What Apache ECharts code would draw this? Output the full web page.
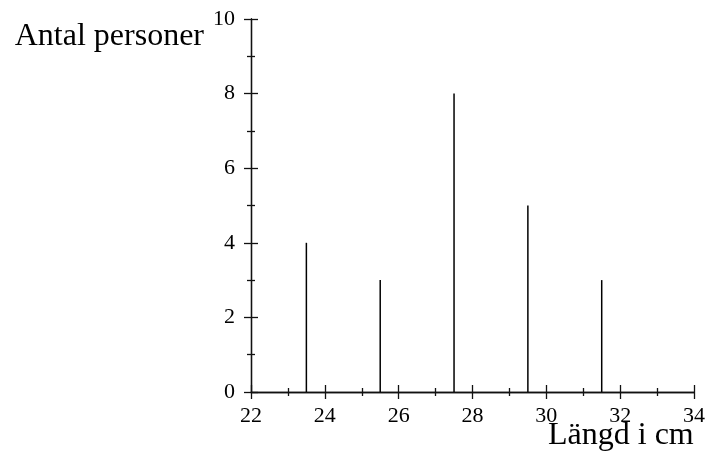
<!DOCTYPE html>
<html>
<head>
<meta charset="utf-8">
<script src="https://cdn.jsdelivr.net/npm/echarts@6/dist/echarts.min.js"></script>
<style>html,body{margin:0;padding:0;background:#fff}#c{width:710px;height:455px}</style>
</head>
<body>
<div id="c"></div>
<script>
var lengths = [23.5, 25.5, 27.5, 29.5, 31.5];
var counts = [4, 3, 8, 5, 3];
var xName = 'Längd i cm';
var yName = 'Antal personer';

var FONT = '"Liberation Serif", "Times New Roman", serif';
var INK = '#111';
var chart = echarts.init(document.getElementById('c'));

function xAx(inside, labels) {
  return {
    type: 'value', min: 22, max: 34, interval: 2, position: 'bottom',
    axisLine: { show: true, onZero: false, lineStyle: { color: INK, width: 1.3 } },
    axisTick: { show: true, inside: inside, length: 7, lineStyle: { color: INK, width: 1.3 } },
    minorTick: { show: true, splitNumber: 2, length: 4, lineStyle: { color: INK, width: 1.3 } },
    axisLabel: { show: labels, margin: 13, fontFamily: FONT, fontSize: 22, color: '#000' },
    splitLine: { show: false }, minorSplitLine: { show: false }
  };
}
function yAx(inside, labels) {
  return {
    type: 'value', min: 0, max: 10, interval: 2, position: 'left',
    axisLine: { show: true, onZero: false, lineStyle: { color: INK, width: 1.3 } },
    axisTick: { show: true, inside: inside, length: 7, lineStyle: { color: INK, width: 1.3 } },
    minorTick: { show: true, splitNumber: 2, length: 4, lineStyle: { color: INK, width: 1.3 } },
    axisLabel: { show: labels, margin: 16, padding: [5, 0, 0, 0], fontFamily: FONT, fontSize: 22, color: '#000' },
    splitLine: { show: false }, minorSplitLine: { show: false }
  };
}

chart.setOption({
  backgroundColor: '#fff',
  animation: false,
  grid: { left: 251, right: 16, top: 19, bottom: 63, containLabel: false },
  xAxis: [xAx(false, true), xAx(true, false)],
  yAxis: [yAx(false, true), yAx(true, false)],
  graphic: [
    { type: 'text', x: 204, y: 37, style: { text: yName, font: '32px ' + FONT, fill: '#000', align: 'right', verticalAlign: 'middle' } },
    { type: 'text', x: 548, y: 436, style: { text: xName, font: '32px ' + FONT, fill: '#000', align: 'left', verticalAlign: 'middle' } }
  ],
  series: [{
    type: 'bar',
    xAxisIndex: 0, yAxisIndex: 0,
    barWidth: 1.5,
    itemStyle: { color: '#000' },
    data: lengths.map(function (x, i) { return [x, counts[i]]; })
  }]
});
</script>
</body>
</html>
